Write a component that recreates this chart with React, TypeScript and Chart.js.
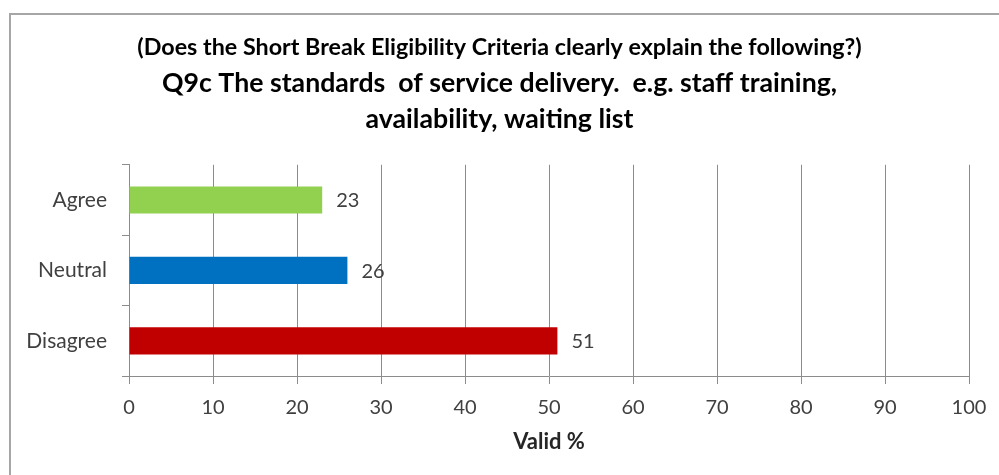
import React, { useEffect, useRef } from "react";
import { Chart, registerables } from "chart.js";

Chart.register(...registerables);

const categories = ["Agree", "Neutral", "Disagree"];
const validPercent = [23, 26, 51];
const barColors = ["#92D050", "#0070C0", "#C00000"];
const xTicksMin = 0;
const xTicksMax = 100;
const xTickStep = 10;
const titleLine = "(Does the Short Break Eligibility Criteria clearly explain the following?)";
const subtitleLines = [
  "Q9c The standards  of service delivery.  e.g. staff training,",
  "availability, waiting list",
];
const xAxisTitle = "Valid %";

const FONT = "Lato, 'Open Sans', sans-serif";

const framePlugin = {
  id: "frame",
  beforeDraw(chart: any) {
    const { ctx, width, height } = chart;
    ctx.save();
    ctx.fillStyle = "#ffffff";
    ctx.fillRect(0, 0, width, height);
    ctx.strokeStyle = "#a6a6a6";
    ctx.lineWidth = 2;
    ctx.beginPath();
    ctx.moveTo(10, height + 2);
    ctx.lineTo(10, 14);
    ctx.lineTo(width + 2, 14);
    ctx.stroke();
    ctx.restore();
  },
};

const valueLabelPlugin = {
  id: "valueLabels",
  afterDatasetsDraw(chart: any) {
    const { ctx } = chart;
    const meta = chart.getDatasetMeta(0);
    ctx.save();
    ctx.font = `20px ${FONT}`;
    ctx.fillStyle = "#404040";
    ctx.textAlign = "left";
    ctx.textBaseline = "middle";
    meta.data.forEach((el: any, i: number) => {
      ctx.fillText(String(validPercent[i]), el.x + 14, el.y + 1);
    });
    ctx.restore();
  },
};

export default function App() {
  const ref = useRef<HTMLCanvasElement | null>(null);

  useEffect(() => {
    if (!ref.current) return;
    const chart = new Chart(ref.current, {
      type: "bar",
      data: {
        labels: categories,
        datasets: [
          {
            data: validPercent,
            backgroundColor: barColors,
            borderWidth: 0,
            barPercentage: 0.386,
            categoryPercentage: 1,
          },
        ],
      },
      options: {
        indexAxis: "y",
        responsive: false,
        animation: false,
        devicePixelRatio: 1,
        layout: { padding: { left: 0, right: 0, top: 0, bottom: 0 } },
        plugins: {
          legend: { display: false },
          tooltip: { enabled: false },
          title: {
            display: true,
            text: titleLine,
            color: "#000000",
            font: { family: FONT, size: 23.3, weight: "bold", lineHeight: 22.8 / 23.3 },
            padding: { top: 36, bottom: 0 },
          },
          subtitle: {
            display: true,
            text: subtitleLines,
            color: "#000000",
            font: { family: FONT, size: 26.7, weight: "bold", lineHeight: 36 / 26.7 },
            padding: { top: 7, bottom: 27 },
          },
        },
        scales: {
          x: {
            type: "linear",
            min: xTicksMin,
            max: xTicksMax,
            ticks: {
              stepSize: xTickStep,
              color: "#404040",
              font: { family: FONT, size: 20 },
              padding: 12,
            },
            grid: {
              color: "#8c8c8c",
              lineWidth: 1,
              drawTicks: true,
              tickLength: 8,
            },
            border: { display: true, color: "#8c8c8c" },
            title: {
              display: true,
              text: xAxisTitle,
              color: "#262626",
              font: { family: FONT, size: 22, weight: "bold", lineHeight: 1.2 },
              padding: { top: 0, bottom: 20 },
            },
            afterFit(scale: any) {
              scale.height = 99;
            },
          },
          y: {
            type: "category",
            grid: {
              drawOnChartArea: false,
              drawTicks: true,
              tickLength: 7,
              color: "#8c8c8c",
              offset: true,
            },
            border: { display: true, color: "#8c8c8c" },
            ticks: {
              color: "#404040",
              font: { family: FONT, size: 21 },
              padding: 15,
            },
            afterFit(scale: any) {
              scale.width = 129;
            },
          },
          yRightMargin: {
            type: "category",
            axis: "y",
            position: "right",
            display: true,
            grid: { display: false, drawTicks: false },
            border: { display: false },
            ticks: { display: false },
            afterFit(scale: any) {
              scale.width = 30;
            },
          },
        },
      },
      plugins: [framePlugin, valueLabelPlugin],
    });
    return () => chart.destroy();
  }, []);

  return (
    <div style={{ position: "absolute", left: 0, top: 0, width: 999, height: 475 }}>
      <canvas ref={ref} width={999} height={475} />
    </div>
  );
}
